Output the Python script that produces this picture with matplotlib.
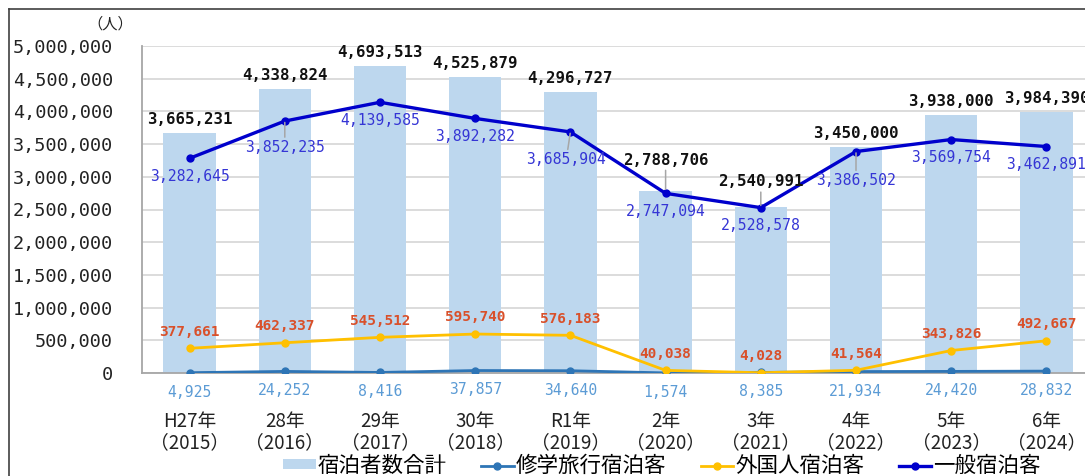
import matplotlib
matplotlib.use('Agg')
import matplotlib.pyplot as plt
from matplotlib.lines import Line2D
import numpy as np

# データ
years = ['H27年\n（2015）', '28年\n（2016）', '29年\n（2017）', '30年\n（2018）', 'R1年\n（2019）',
         '2年\n（2020）', '3年\n（2021）', '4年\n（2022）', '5年\n（2023）', '6年\n（2024）']
total = [3665231, 4338824, 4693513, 4525879, 4296727, 2788706, 2540991, 3450000, 3938000, 3984390]
school = [4925, 24252, 8416, 37857, 34640, 1574, 8385, 21934, 24420, 28832]
foreign = [377661, 462337, 545512, 595740, 576183, 40038, 4028, 41564, 343826, 492667]
general = [3282645, 3852235, 4139585, 3892282, 3685904, 2747094, 2528578, 3386502, 3569754, 3462891]
yticks = [0, 500000, 1000000, 1500000, 2000000, 2500000, 3000000, 3500000, 4000000, 4500000, 5000000]

jp = 'Noto Sans CJK JP'
num = ['DejaVu Sans Mono', 'Liberation Mono']
plt.rcParams['font.family'] = [jp, 'DejaVu Sans']

W, H = 1085, 476
fig = plt.figure(figsize=(W / 100, H / 100), dpi=100)
fig.patch.set_facecolor('white')

# 枠線 (左と上だけ見えている)
fig.add_artist(Line2D([9 / W, 9 / W], [-0.1, 1 - 9 / H], color='#404040', lw=1.2))
fig.add_artist(Line2D([9 / W, 1.1], [1 - 9 / H, 1 - 9 / H], color='#404040', lw=1.2))

ax = fig.add_axes([142 / W, 103 / H, 952 / W, 327 / H])
x = np.arange(len(years))

ax.bar(x, total, width=0.55, color='#BDD7EE', zorder=2, label='宿泊者数合計')
ax.plot(x, school, color='#2E75B6', lw=2, marker='o', ms=5, zorder=3, label='修学旅行宿泊客')
ax.plot(x, foreign, color='#FFC000', lw=2, marker='o', ms=5, zorder=4, label='外国人宿泊客')
ax.plot(x, general, color='#0000CC', lw=2.4, marker='o', ms=5, zorder=5, label='一般宿泊客')

ax.set_xlim(-0.5, len(years) - 0.5)
ax.set_ylim(0, 5000000)
ax.set_yticks(yticks)
ax.set_yticklabels(['{:,}'.format(v) for v in yticks], family=num, fontsize=13.3, color='#222222')
ax.set_xticks(x)
ax.set_xticklabels(years, fontsize=13.5, linespacing=1.05, color='#222222')
ax.tick_params(axis='y', length=0, pad=21)
ax.tick_params(axis='x', length=0, pad=27)
ax.grid(axis='y', color='#D9D9D9', lw=1.3)
ax.set_axisbelow(True)
for s in ['top', 'right']:
    ax.spines[s].set_visible(False)
for s in ['left', 'bottom']:
    ax.spines[s].set_color('#A6A6A6')
    ax.spines[s].set_linewidth(1.3)

leader = dict(arrowstyle='-', color='#A6A6A6', lw=1.1, shrinkA=0, shrinkB=1)

# 合計ラベル
bar_off = [10, 10, 10, 10, 10, 22, 18, 10, 10, 10]
for i, v in enumerate(total):
    ap = leader if bar_off[i] > 15 else None
    ax.annotate('{:,}'.format(v), (i, v), xytext=(0, bar_off[i]), textcoords='offset points',
                ha='center', va='center', family=num, fontsize=11.3, fontweight='bold',
                color='#111111', arrowprops=ap, zorder=6)

# 一般宿泊客ラベル
gen_off = [(0, -13), (0, -19), (0, -13), (0, -13), (-3, -20), (0, -13), (0, -13), (0, -21), (0, -13), (0, -13)]
for i, v in enumerate(general):
    ap = leader if gen_off[i][1] < -15 else None
    ax.annotate('{:,}'.format(v), (i, v), xytext=gen_off[i], textcoords='offset points',
                ha='center', va='center', family=num, fontsize=10.6,
                color='#3535D5', arrowprops=ap, zorder=6)

# 外国人宿泊客ラベル
for i, v in enumerate(foreign):
    ax.annotate('{:,}'.format(v), (i, v), xytext=(0, 12), textcoords='offset points',
                ha='center', va='center', family=num, fontsize=10.4, fontweight='bold',
                color='#D9502A', zorder=6)

# 修学旅行宿泊客ラベル
for i, v in enumerate(school):
    ax.annotate('{:,}'.format(v), (i, v), xytext=(0, -14), textcoords='offset points',
                ha='center', va='center', family=num, fontsize=10.6,
                color='#5B9BD5', annotation_clip=False, zorder=6)

fig.text(110 / W, 1 - 24 / H, '（人）', ha='center', va='center', fontsize=11, color='#222222')

handles, labels = ax.get_legend_handles_labels()
order = [3, 0, 1, 2]
fig.legend([handles[k] for k in order], [labels[k] for k in order],
           loc='center', bbox_to_anchor=(662 / W, 10 / H), ncol=4, frameon=False,
           fontsize=15.5, handlelength=1.5, handletextpad=0.1, columnspacing=1.6,
           handleheight=0.35)

fig.savefig('out.png', dpi=100)
